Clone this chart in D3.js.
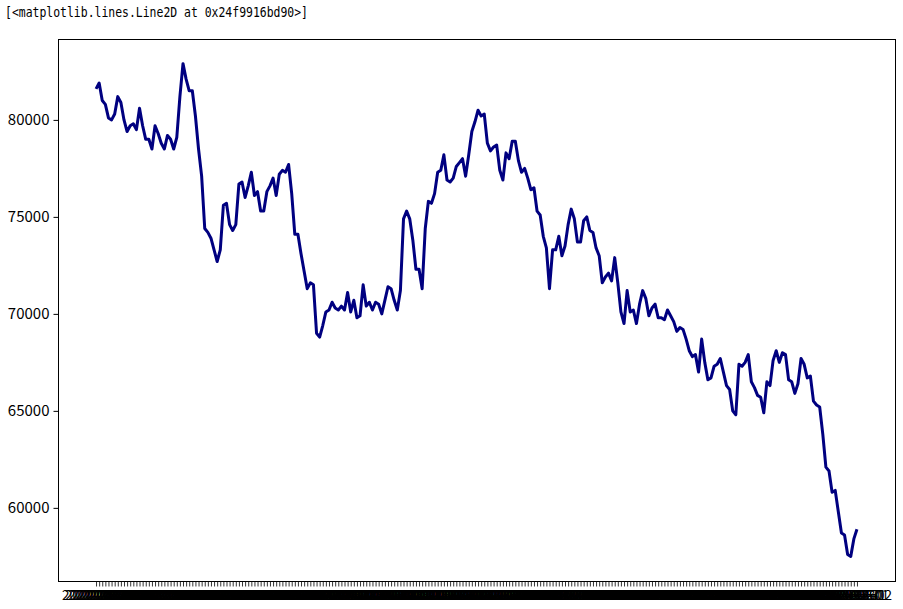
<!DOCTYPE html>
<html>
<head>
<meta charset="utf-8">
<script src="https://cdn.jsdelivr.net/npm/d3@7"></script>
<style>
  html, body { margin: 0; padding: 0; background: #fff; }
  svg { display: block; }
</style>
</head>
<body>
<svg id="chart" width="903" height="609"></svg>
<script>
// ---------- data ----------
const values = [
  81600, 81900, 81000, 80800, 80100, 80000, 80300, 81200, 80900, 80000,
  79400, 79700, 79800, 79500, 80600, 79700, 79000, 79000, 78500, 79700,
  79300, 78800, 78500, 79200, 79000, 78500, 79100, 81200, 82900, 82100,
  81500, 81500, 80200, 78500, 77100, 74400, 74200, 73900, 73300, 72700,
  73300, 75600, 75700, 74600, 74300, 74600, 76700, 76800, 76000, 76600,
  77300, 76100, 76300, 75300, 75300, 76300, 76600, 77000, 76100, 77200,
  77400, 77300, 77700, 76200, 74100, 74100, 73100, 72200, 71300, 71600,
  71500, 69000, 68800, 69400, 70100, 70200, 70600, 70300, 70200, 70400,
  70200, 71100, 70100, 70700, 69800, 69900, 71500, 70400, 70600, 70200,
  70600, 70500,
  70000, 70700, 71400, 71300, 70700, 70200, 71200, 74900, 75300, 74900,
  73800, 72300, 72300, 71300, 74400, 75800, 75700, 76200, 77300, 77400,
  78200, 76900, 76800, 77000, 77600, 77800, 78000, 77100, 78200, 79400,
  79900, 80500, 80200, 80300, 78800, 78400, 78600, 78700, 77400, 76900,
  78300, 78000, 78900, 78900, 77900, 77300, 77500, 77000,
  76400, 76500, 75300, 75100, 74000, 73400, 71300, 73300, 73300, 74000,
  73000, 73500, 74600, 75400, 74900, 73700, 73700, 74800, 75000, 74300,
  74200, 73400, 73000, 71600, 71900, 72100, 71700, 72900, 71600, 70100,
  69500, 71200, 70100, 70200, 69500, 70500, 71200, 70800, 69900, 70300,
  70500, 69800, 69800, 69700, 70200, 69900, 69600, 69100, 69300, 69200,
  68700, 68100,
  67800, 67900, 67000, 68700, 67500, 66600, 66700, 67300, 67400, 67700,
  67000, 66300, 66100, 65000, 64800, 67400, 67300, 67500, 67900, 66500,
  66200, 65800, 65700, 64900, 66500, 66300, 67600, 68100, 67500, 68000,
  67900, 66600, 66500, 65900, 66400, 67700, 67400, 66700, 66800, 65500,
  65300, 65200, 63800, 62100, 61900, 60800, 60900, 59800, 58700, 58600,
  57600, 57500, 58400, 58900
];

// x tick labels: trading-day dates (one label per point, as in the reference)
const startDate = "2021-06-24";
const dateLabels = (function () {
  const out = [];
  const d = new Date(startDate + "T00:00:00Z");
  while (out.length < values.length) {
    const wd = d.getUTCDay();
    if (wd !== 0 && wd !== 6) out.push(d.toISOString().slice(0, 10));
    d.setUTCDate(d.getUTCDate() + 1);
  }
  return out;
})();

const yTickValues = [60000, 65000, 70000, 75000, 80000];
const titleText = "[<matplotlib.lines.Line2D at 0x24f9916bd90>]";

(function draw() {
  const svg = d3.select("#chart");
  const pLeft = 58, pRight = 895, pTop = 39, pBottom = 581;

  svg.append("rect").attr("width", 903).attr("height", 609).attr("fill", "#fff");

  const n = values.length;
  const x = d3.scalePoint()
    .domain(dateLabels)
    .range([pLeft, pRight])
    .padding(0.05 * (n - 1));

  const vmin = d3.min(values), vmax = d3.max(values);
  const pad = 0.05 * (vmax - vmin);
  const y = d3.scaleLinear()
    .domain([vmin - pad, vmax + pad])
    .range([pBottom, pTop]);

  svg.append("text")
    .attr("x", 5).attr("y", 17)
    .attr("font-family", "'DejaVu Sans Mono', monospace")
    .attr("font-size", 13.5)
    .attr("textLength", 303)
    .attr("lengthAdjust", "spacingAndGlyphs")
    .attr("fill", "#000")
    .text(titleText);

  const line = d3.line()
    .x((d, i) => x(dateLabels[i]))
    .y(d => y(d));

  svg.append("path")
    .datum(values)
    .attr("d", line)
    .attr("fill", "none")
    .attr("stroke", "#000080")
    .attr("stroke-width", 3)
    .attr("stroke-linejoin", "round");

  svg.append("rect")
    .attr("x", pLeft + 0.5).attr("y", pTop + 0.5)
    .attr("width", pRight - pLeft).attr("height", pBottom - pTop)
    .attr("fill", "none").attr("stroke", "#000").attr("stroke-width", 1);

  const yAxis = svg.append("g")
    .attr("transform", `translate(${pLeft + 0.5},0)`)
    .call(d3.axisLeft(y).tickValues(yTickValues).tickSize(5).tickPadding(4).tickFormat(d3.format("d")));
  yAxis.select(".domain").remove();
  yAxis.selectAll("text")
    .attr("font-family", "'Noto Sans CJK KR', 'Noto Sans', sans-serif")
    .attr("font-size", 15).attr("fill", "#000");
  yAxis.selectAll("line").attr("stroke", "#000");

  const xAxis = svg.append("g")
    .attr("transform", `translate(0,${pBottom + 0.5})`)
    .call(d3.axisBottom(x).tickSize(5).tickPadding(4));
  xAxis.select(".domain").remove();
  xAxis.selectAll("text")
    .attr("font-family", "'Noto Sans CJK KR', 'Noto Sans', sans-serif")
    .attr("font-size", 13.5).attr("fill", "#000");
  xAxis.selectAll("line").attr("stroke", "#000").attr("stroke-width", 0.8);
})();
</script>
</body>
</html>
